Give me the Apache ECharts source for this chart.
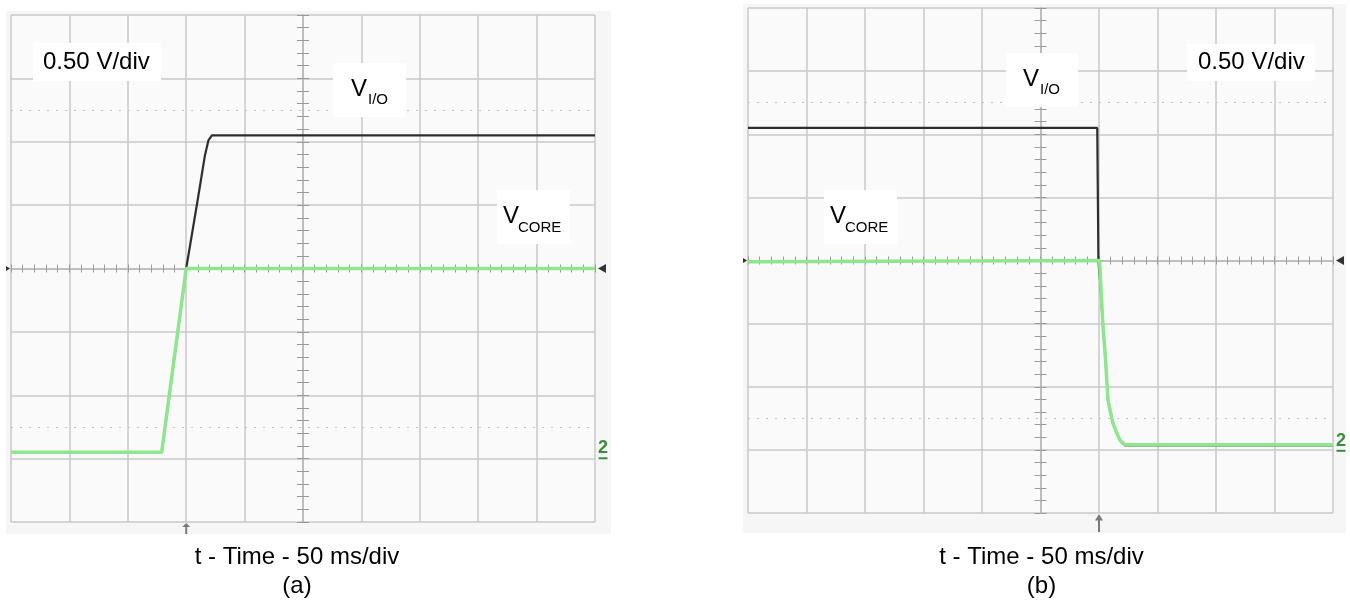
<!DOCTYPE html>
<html>
<head>
<meta charset="utf-8">
<script src="https://cdn.jsdelivr.net/npm/echarts@6/dist/echarts.min.js"></script>
<style>
html,body{margin:0;padding:0;background:#fff;}
#chart{width:1350px;height:601px;}
</style>
</head>
<body>
<div id="chart"></div>
<script>
// ---- data (time in ms relative to screen centre, amplitude in divisions) ----
const tMin = -250, tMax = 250, tDiv = 50;      // 50 ms/div, 10 divisions
const vMin = -4, vMax = 4, vDiv = 1;            // 0.50 V/div, 8 divisions
const cursorLevels = [2.5, -2.5];

// (a) power-up
const aIoT   = [-250, -121, -100, -90, -84, -81, -78, 250];
const aIoV   = [-2.9, -2.9, 0, 1.1, 1.78, 2.02, 2.1, 2.1];
const aCoreT = [-250, -121, -100, 250];
const aCoreV = [-2.9, -2.9, 0, 0];
const aTrig = -100, aGround = -2.9;

// (b) power-down
const bIoT   = [-250, 48.5, 49.5, 51.4, 53.2, 55.4, 57.7, 59.4, 62, 65.1, 68, 72.2, 250];
const bIoV   = [2.1, 2.1, 0, -0.43, -0.99, -1.52, -2.21, -2.37, -2.58, -2.73, -2.85, -2.93, -2.93];
const bCoreT = [-250, 50.5, 53.2, 55.4, 57.7, 59.4, 62, 65.1, 68, 72.2, 250];
const bCoreV = [-0.02, 0, -0.99, -1.52, -2.21, -2.37, -2.58, -2.73, -2.85, -2.92, -2.92];
const bTrig = 50, bGround = -2.92;

const zip = (t, v) => t.map((x, i) => [x, v[i]]);

const gridCol = '#c9c9c9', tickCol = '#9a9a9a', ioCol = '#2e2e2e', coreCol = '#8fe68f', gndCol = '#3d8b3d';
const arrowPath = 'path://M4,0 L8,5 L5,5 L5,14 L3,14 L3,5 L0,5 Z';

function mainX(g, yIdx) {
  return {type:'value', gridIndex:g, min:tMin, max:tMax, interval:tDiv,
    axisLine:{show:true, onZero:true, onZeroAxisIndex:yIdx, lineStyle:{color:'#b5b5b5', width:1.5}},
    axisTick:{show:true, inside:true, length:4, lineStyle:{color:tickCol}},
    minorTick:{show:true, splitNumber:5, length:4, lineStyle:{color:tickCol}},
    axisLabel:{show:false},
    splitLine:{show:true, lineStyle:{color:gridCol, width:1.5}}};
}
function mirrorX(g, yIdx) {
  return {type:'value', gridIndex:g, position:'bottom', min:tMin, max:tMax, interval:tDiv,
    axisLine:{show:true, onZero:true, onZeroAxisIndex:yIdx, lineStyle:{opacity:0}},
    axisTick:{show:true, inside:false, length:4, lineStyle:{color:tickCol}},
    minorTick:{show:true, splitNumber:5, length:4, lineStyle:{color:tickCol}},
    axisLabel:{show:false}, splitLine:{show:false}};
}
function mainY(g, xIdx) {
  return {type:'value', gridIndex:g, min:vMin, max:vMax, interval:vDiv,
    axisLine:{show:true, onZero:true, onZeroAxisIndex:xIdx, lineStyle:{color:'#b5b5b5', width:1.5}},
    axisTick:{show:true, inside:true, length:6, lineStyle:{color:tickCol}},
    minorTick:{show:true, splitNumber:5, length:6, lineStyle:{color:tickCol}},
    axisLabel:{show:false},
    splitLine:{show:true, lineStyle:{color:gridCol, width:1.5}}};
}
function mirrorY(g, xIdx) {
  return {type:'value', gridIndex:g, position:'left', min:vMin, max:vMax, interval:vDiv,
    axisLine:{show:true, onZero:true, onZeroAxisIndex:xIdx, lineStyle:{opacity:0}},
    axisTick:{show:true, inside:false, length:6, lineStyle:{color:tickCol}},
    minorTick:{show:true, splitNumber:5, length:6, lineStyle:{color:tickCol}},
    axisLabel:{show:false}, splitLine:{show:false}};
}

function markers(trig, ground, arrowLen) {
  return {
    silent:true, animation:false,
    data:[
      {coord:[trig, vMin], symbol:arrowPath, symbolSize:[8, arrowLen], symbolOffset:[0, arrowLen/2 + 1],
        itemStyle:{color:'#7a7a7a'}, label:{show:false}},
      {coord:[tMax, 0], symbol:'triangle', symbolRotate:90, symbolSize:[9,8], symbolOffset:[7,0],
        itemStyle:{color:'#333'}, label:{show:false}},
      {coord:[tMin, 0], symbol:'triangle', symbolRotate:-90, symbolSize:[5,4], symbolOffset:[-3,0],
        itemStyle:{color:'#333'}, label:{show:false}},
      {coord:[tMax, ground], symbol:'rect', symbolSize:[9,2], symbolOffset:[8,6],
        itemStyle:{color:gndCol},
        label:{show:true, formatter:'2', position:'top', distance:0, color:gndCol, fontSize:18,
          fontWeight:'bold', fontFamily:'Liberation Sans, Arial, sans-serif'}}
    ]
  };
}
function cursors() {
  return {silent:true, symbol:'none', animation:false, label:{show:false},
    lineStyle:{color:'#c4c4c4', type:[2,7], width:1},
    data: cursorLevels.map(v => ({yAxis:v}))};
}

const FONT = 'Liberation Sans, Arial, sans-serif';
function txt(x, y, s, size, align) {
  return {type:'text', z:101, style:{x:x, y:y, text:s, fontSize:size, fontFamily:FONT, fill:'#000',
    align:align || 'left', verticalAlign:'middle'}};
}
function box(x, y, w, h) {
  return {type:'rect', z:100, shape:{x:x, y:y, width:w, height:h}, style:{fill:'#ffffff'}};
}

const option = {
  animation:false,
  backgroundColor:'#ffffff',
  grid:[
    {left:11, top:15, width:584, height:507, show:true, backgroundColor:'#fafafa', borderWidth:0},
    {left:748, top:8, width:585, height:505, show:true, backgroundColor:'#fafafa', borderWidth:0}
  ],
  xAxis:[mainX(0,0), mirrorX(0,0), mainX(1,2), mirrorX(1,2)],
  yAxis:[mainY(0,0), mirrorY(0,0), mainY(1,2), mirrorY(1,2)],
  series:[
    {type:'line', name:'V_I/O (a)', xAxisIndex:0, yAxisIndex:0, data:zip(aIoT, aIoV), symbol:'none',
      lineStyle:{color:ioCol, width:2.2}, z:3, markPoint:markers(aTrig, aGround, 11)},
    {type:'line', name:'V_CORE (a)', xAxisIndex:0, yAxisIndex:0, data:zip(aCoreT, aCoreV), symbol:'none',
      lineStyle:{color:coreCol, width:3.5}, z:4, markLine:cursors()},
    {type:'line', name:'V_I/O (b)', xAxisIndex:2, yAxisIndex:2, data:zip(bIoT, bIoV), symbol:'none',
      lineStyle:{color:ioCol, width:2.2}, z:3, markPoint:markers(bTrig, bGround, 18)},
    {type:'line', name:'V_CORE (b)', xAxisIndex:2, yAxisIndex:2, data:zip(bCoreT, bCoreV), symbol:'none',
      lineStyle:{color:coreCol, width:3.5}, z:4, markLine:cursors()}
  ],
  graphic:[
    {type:'rect', z:-10, shape:{x:6, y:11, width:605, height:523}, style:{fill:'#f6f6f6'}},
    {type:'rect', z:-10, shape:{x:743, y:4, width:603, height:529}, style:{fill:'#f6f6f6'}},
    // panel (a) labels
    box(33, 43, 128, 38), txt(43, 62, '0.50 V/div', 24),
    box(333, 63, 73, 54), txt(351, 89, 'V', 24), txt(368, 100, 'I/O', 15),
    box(497, 190, 73, 54), txt(503, 216.5, 'V', 24), txt(518, 227.5, 'CORE', 15),
    txt(297, 557, 't - Time - 50 ms/div', 24, 'center'), txt(297, 586, '(a)', 24, 'center'),
    // panel (b) labels
    box(1187, 44, 128, 37), txt(1198, 62.5, '0.50 V/div', 24),
    box(1006, 53, 72, 54), txt(1023, 79.5, 'V', 24), txt(1040, 90, 'I/O', 15),
    box(824, 190, 73, 54), txt(830, 216, 'V', 24), txt(845, 227.5, 'CORE', 15),
    txt(1041.5, 557, 't - Time - 50 ms/div', 24, 'center'), txt(1041.5, 586, '(b)', 24, 'center')
  ]
};

const chart = echarts.init(document.getElementById('chart'), null, {renderer:'canvas'});
chart.setOption(option);
</script>
</body>
</html>
